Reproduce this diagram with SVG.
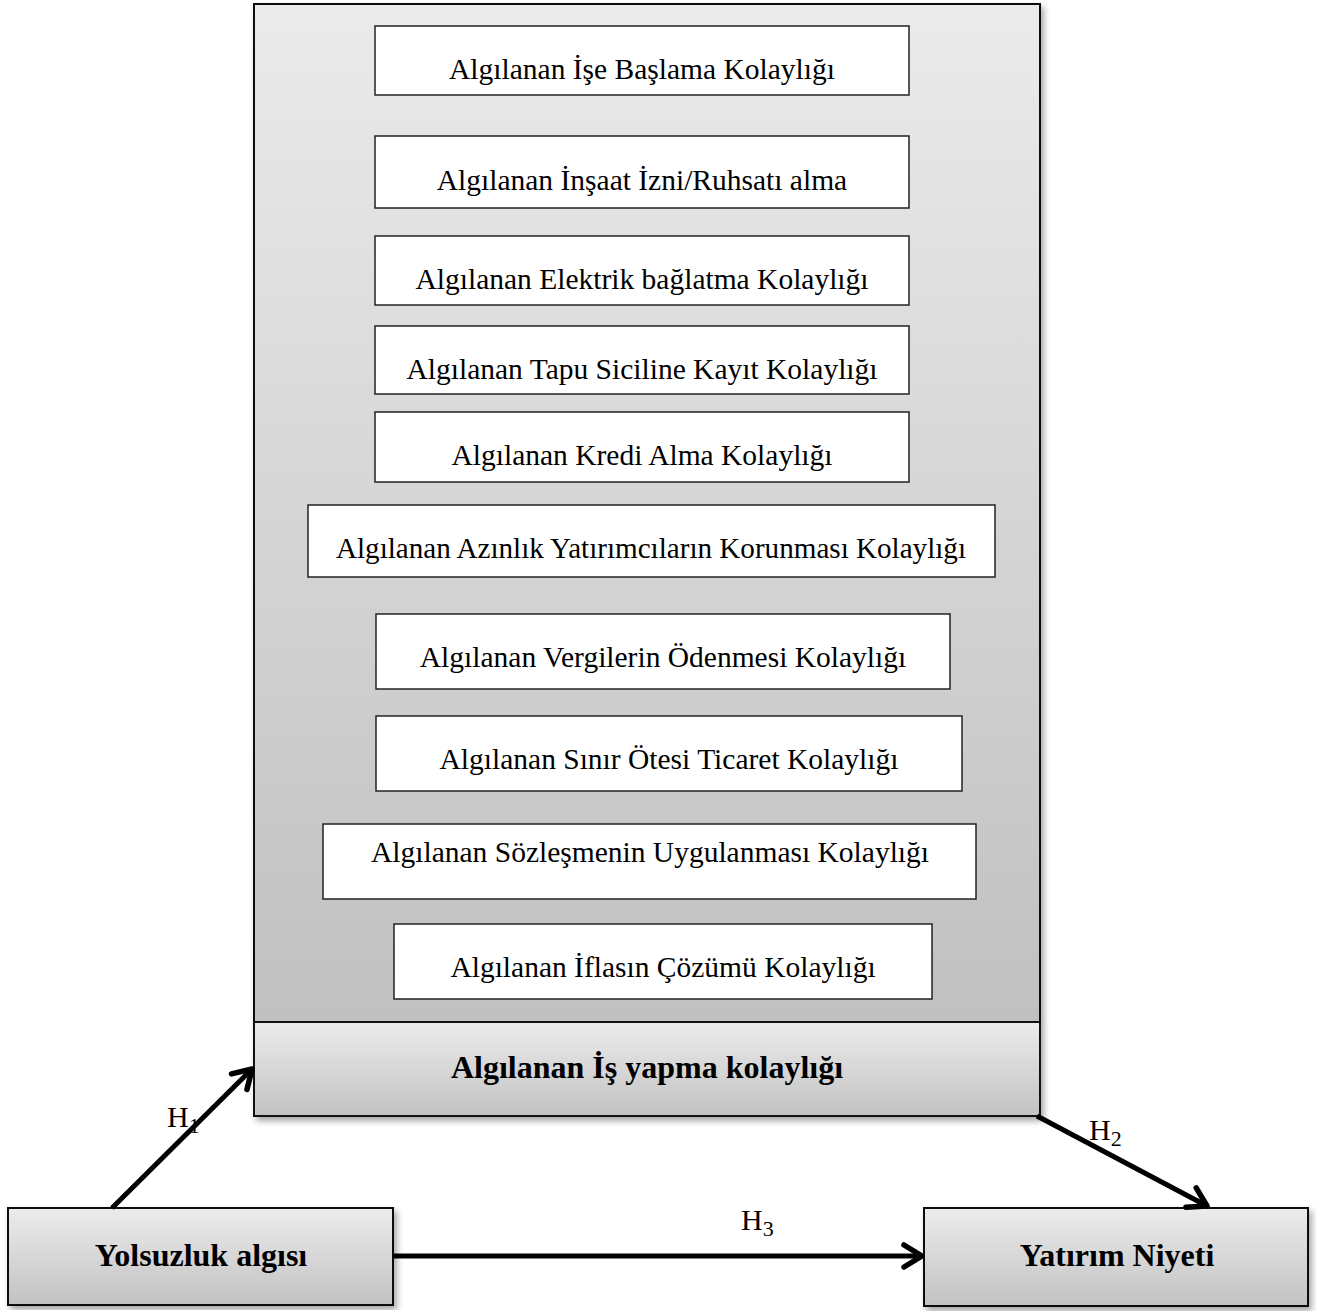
<svg xmlns="http://www.w3.org/2000/svg" width="1317" height="1314" viewBox="0 0 1317 1314">
<defs>
<linearGradient id="gMain" x1="0" y1="0" x2="0" y2="1">
<stop offset="0" stop-color="#ebebeb"/><stop offset="1" stop-color="#bcbcbc"/>
</linearGradient>
<linearGradient id="gBand" x1="0" y1="0" x2="0" y2="1">
<stop offset="0" stop-color="#ececec"/><stop offset="1" stop-color="#c2c2c2"/>
</linearGradient>
<filter id="sh" x="-5%" y="-5%" width="110%" height="110%">
<feDropShadow dx="3" dy="4" stdDeviation="3" flood-color="#000" flood-opacity="0.35"/>
</filter>
<marker id="ah" viewBox="0 0 28 28" refX="24" refY="14" markerWidth="28" markerHeight="28" markerUnits="userSpaceOnUse" orient="auto">
<polyline points="6,3 24,14 6,25" fill="none" stroke="#000" stroke-width="5.5" stroke-linecap="round" stroke-linejoin="round"/>
</marker>
<style>
.box{fill:#fff;stroke:#222;stroke-width:1.5}
.t{font-family:"Liberation Serif","Times New Roman",serif;font-size:29.5px;fill:#000;text-anchor:middle}
.b{font-family:"Liberation Serif","Times New Roman",serif;font-size:32px;font-weight:bold;fill:#000;text-anchor:middle}
.h{font-family:"Liberation Serif","Times New Roman",serif;font-size:30px;fill:#000}
.hs{font-size:22px}
.con{stroke:#000;stroke-width:5;fill:none;marker-end:url(#ah)}
.outer{stroke:#111;stroke-width:2}
</style>
</defs>
<g id="container">
<rect x="254" y="4" width="786" height="1112" fill="url(#gMain)" class="outer" filter="url(#sh)"/>
</g>
<g id="band">
<rect x="254" y="1022" width="786" height="94" fill="url(#gBand)" class="outer"/>
<text class="b" x="647" y="1078">Algılanan İş yapma kolaylığı</text>
</g>
<g id="n1"><rect class="box" x="375" y="26" width="534" height="69"/><text class="t" x="642" y="79">Algılanan İşe Başlama Kolaylığı</text></g>
<g id="n2"><rect class="box" x="375" y="136" width="534" height="72"/><text class="t" x="642" y="190">Algılanan İnşaat İzni/Ruhsatı alma</text></g>
<g id="n3"><rect class="box" x="375" y="236" width="534" height="69"/><text class="t" x="642" y="289">Algılanan Elektrik bağlatma Kolaylığı</text></g>
<g id="n4"><rect class="box" x="375" y="326" width="534" height="68"/><text class="t" x="642" y="379">Algılanan Tapu Siciline Kayıt Kolaylığı</text></g>
<g id="n5"><rect class="box" x="375" y="412" width="534" height="70"/><text class="t" x="642" y="465">Algılanan Kredi Alma Kolaylığı</text></g>
<g id="n6"><rect class="box" x="308" y="505" width="687" height="72"/><text class="t" x="651" y="558" textLength="630" lengthAdjust="spacingAndGlyphs">Algılanan Azınlık Yatırımcıların Korunması Kolaylığı</text></g>
<g id="n7"><rect class="box" x="376" y="614" width="574" height="75"/><text class="t" x="663" y="667">Algılanan Vergilerin Ödenmesi Kolaylığı</text></g>
<g id="n8"><rect class="box" x="376" y="716" width="586" height="75"/><text class="t" x="669" y="769">Algılanan Sınır Ötesi Ticaret Kolaylığı</text></g>
<g id="n9"><rect class="box" x="323" y="824" width="653" height="75"/><text class="t" x="650" y="862">Algılanan Sözleşmenin Uygulanması Kolaylığı</text></g>
<g id="n10"><rect class="box" x="394" y="924" width="538" height="75"/><text class="t" x="663" y="977">Algılanan İflasın Çözümü Kolaylığı</text></g>
<g id="yolsuzluk">
<rect x="8" y="1208" width="385" height="97" fill="url(#gBand)" class="outer" filter="url(#sh)"/>
<text class="b" x="201" y="1266">Yolsuzluk algısı</text>
</g>
<g id="yatirim">
<rect x="924" y="1208" width="384" height="98" fill="url(#gBand)" class="outer" filter="url(#sh)"/>
<text class="b" x="1117" y="1266">Yatırım Niyeti</text>
</g>
<g id="connectors">
<line class="con" x1="112" y1="1208" x2="252" y2="1069"/>
<line class="con" x1="1037" y1="1116" x2="1207" y2="1206"/>
<line class="con" x1="393" y1="1256" x2="922" y2="1256"/>
<text class="h" x="167" y="1127">H<tspan class="hs" dy="6">1</tspan></text>
<text class="h" x="1089" y="1140">H<tspan class="hs" dy="6">2</tspan></text>
<text class="h" x="741" y="1230">H<tspan class="hs" dy="6">3</tspan></text>
</g>
</svg>
